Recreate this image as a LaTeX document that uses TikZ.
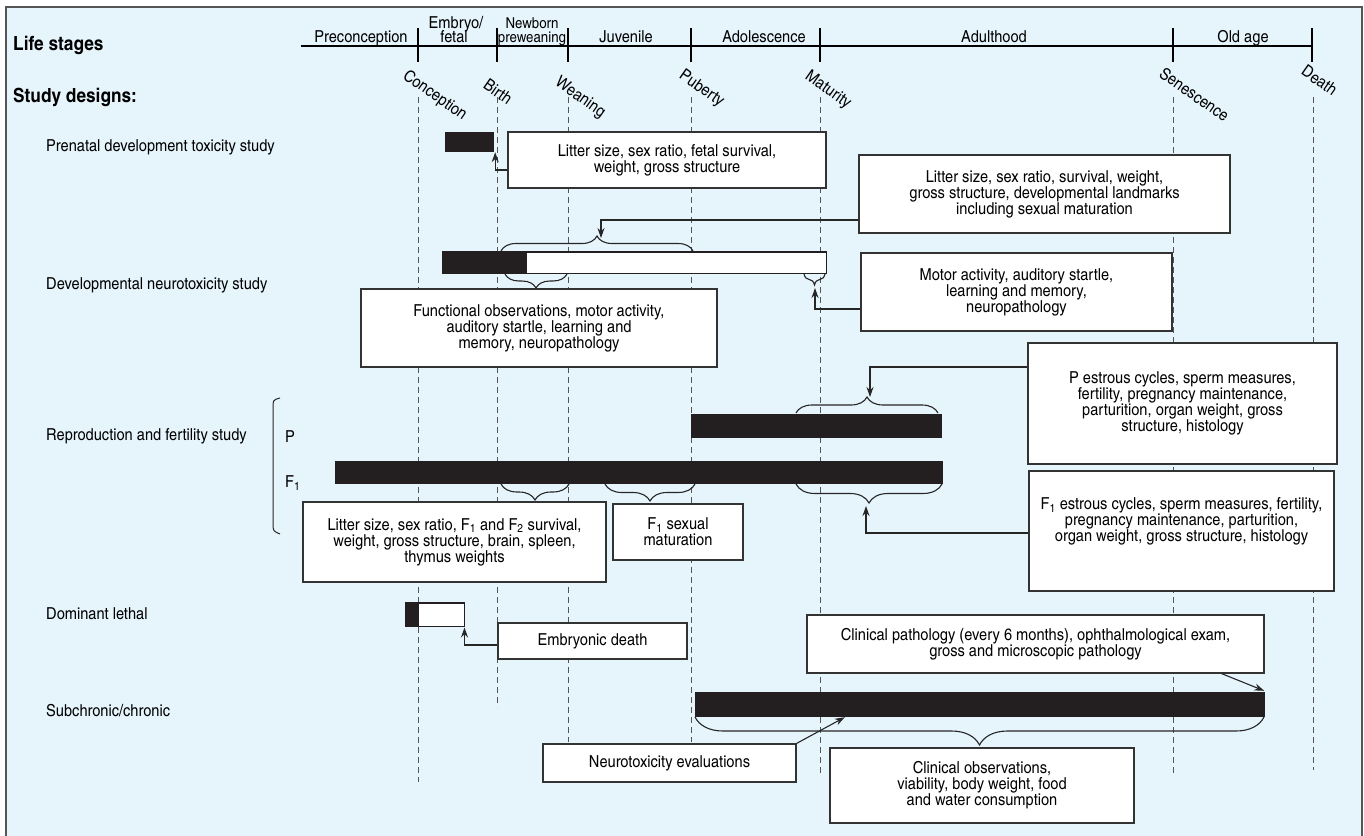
\documentclass[tikz,border=0pt]{standalone}
\usepackage{fontspec}
\setmainfont{texgyreheroscn}[Extension=.otf, UprightFont=*-regular, BoldFont=*-bold, ItalicFont=*-italic, BoldItalicFont=*-bolditalic, FakeStretch=1.08]
\usetikzlibrary{arrows.meta,decorations.pathreplacing,calc}
\definecolor{bgblue}{HTML}{E6F4FC}
\definecolor{framec}{HTML}{555555}
\definecolor{dashc}{HTML}{555555}
\definecolor{boxc}{HTML}{333333}
\definecolor{barc}{HTML}{231F20}
\newcommand{\fsbox}{\fontsize{16.5}{16}\selectfont}
\newcommand{\fssmall}{\fontsize{15}{15}\selectfont}
\newcommand{\fsrow}{\fontsize{16.5}{17}\selectfont}
\newcommand{\fshead}{\fontsize{19.5}{20}\selectfont\bfseries}
\begin{document}
\begin{tikzpicture}[x=1pt,y=-1pt,
  box/.style={draw=boxc, fill=white, line width=1.2pt, align=center, inner sep=0pt, font=\fsbox},
  bar/.style={fill=barc, draw=barc, line width=0.4pt, inner sep=0pt},
  wbar/.style={fill=white, draw=barc, line width=1pt, inner sep=0pt},
  stage/.style={font=\fsbox, inner sep=0pt, anchor=base},
  rowlab/.style={font=\fsrow, inner sep=0pt, anchor=west},
  head/.style={font=\fshead, inner sep=0pt, anchor=west},
  rot/.style={font=\fsbox, inner sep=0pt, anchor=north west, rotate=-35},
  tline/.style={draw=black, line width=1.2pt},
  dline/.style={draw=dashc, line width=1pt, dash pattern=on 6pt off 4pt},
  arr/.style={draw=black!85, line width=1.1pt, -{Stealth[length=10pt,width=7pt]}},
  brc/.style={draw=black!85, line width=1.1pt, decorate, decoration={brace, amplitude=#1}}
]
\useasboundingbox (0,0) rectangle (1364,835);
\fill[white] (0,0) rectangle (1364,835);
\draw[framec, fill=bgblue, line width=2pt] (6,7) rectangle (1362,850);

% headings
\node[head] (hLife) at (13,45) {Life stages};
\node[head] (hStudy) at (13,97) {Study designs:};

% timeline
\draw[tline] (301,46) -- (1312,46);
\foreach \x in {418,497,568,691,820,1173,1312} \draw[tline] (\x,28) -- (\x,62);
\node[stage] (sPre) at (361,42) {Preconception};
\node[stage] (sEmb1) at (456,28) {Embryo/};
\node[stage] (sEmb2) at (454,42) {fetal};
\node[stage, font=\fssmall] (sNew1) at (532,28) {Newborn};
\node[stage, font=\fssmall] (sNew2) at (532,42) {preweaning};
\node[stage] (sJuv) at (626,42) {Juvenile};
\node[stage] (sAdo) at (764,42) {Adolescence};
\node[stage] (sAdu) at (994,42) {Adulthood};
\node[stage] (sOld) at (1243,42) {Old age};

% dashed event lines
\foreach \x/\yb in {418/782,497/707,568/742,691/742,820/775,1173/773,1313/770}
  \draw[dline] (\x,97) -- (\x,\yb);

% rotated event labels
\node[rot] (eCon) at (409,68) {Conception};
\node[rot] (eBir) at (489,78) {Birth};
\node[rot] (eWea) at (561,75) {Weaning};
\node[rot] (ePub) at (685,68) {Puberty};
\node[rot] (eMat) at (811,69) {Maturity};
\node[rot] (eSen) at (1165,66) {Senescence};
\node[rot] (eDea) at (1307,64) {Death};

% row labels
\node[rowlab] (rPre) at (46,147) {Prenatal development toxicity study};
\node[rowlab] (rDnt) at (46,285) {Developmental neurotoxicity study};
\node[rowlab] (rRep) at (46,436) {Reproduction and fertility study};
\node[rowlab] (rDom) at (46,614) {Dominant lethal};
\node[rowlab] (rSub) at (46,711) {Subchronic/chronic};
\node[rowlab] (rP) at (285,437) {P};
\node[rowlab] (rF) at (285,483) {F\textsubscript{1}};
\draw[draw=black!85, line width=1pt] (280,398) .. controls (273,400) .. (273,408) -- (273,523) .. controls (273,531) .. (280,534);

% bars
\node[bar, minimum width=48, minimum height=19] (pren) at (469,141.5) {};
\node[wbar, minimum width=383, minimum height=21] (dnt) at (634.5,262.5) {};
\fill[barc] (dnt.north west) rectangle ($(dnt.south west)+(84,0)$);
\draw[barc, line width=1pt] (dnt.north west) rectangle (dnt.south east);
\node[bar, minimum width=250, minimum height=23] (pbar) at (816,425.5) {};
\node[bar, minimum width=607, minimum height=22] (fbar) at (638.5,472) {};
\node[wbar, minimum width=58, minimum height=23] (dl) at (435,614.5) {};
\fill[barc] (dl.north west) rectangle ($(dl.south west)+(13,0)$);
\draw[barc, line width=1pt] (dl.north west) rectangle (dl.south east);
\node[bar, minimum width=569, minimum height=24] (sc) at (979.5,704) {};

% boxes
\node[box, minimum width=318, minimum height=56] (A) at (667,160) {Litter size, sex ratio, fetal survival,\\weight, gross structure};
\node[box, minimum width=371, minimum height=78] (B) at (1044.5,194) {Litter size, sex ratio, survival, weight,\\gross structure, developmental landmarks\\including sexual maturation};
\node[box, minimum width=311, minimum height=78] (C) at (1016.5,292) {Motor activity, auditory startle,\\learning and memory,\\neuropathology};
\node[box, minimum width=356, minimum height=78] (D) at (539,328) {Functional observations, motor activity,\\auditory startle, learning and\\memory, neuropathology};
\node[box, minimum width=309, minimum height=121] (E) at (1182.5,403.5) {P estrous cycles, sperm measures,\\fertility, pregnancy maintenance,\\parturition, organ weight, gross\\structure, histology};
\node[box, minimum width=305, minimum height=120, text height=25pt] (F) at (1181.5,531) {F\textsubscript{1} estrous cycles, sperm measures, fertility,\\pregnancy maintenance, parturition,\\organ weight, gross structure, histology};
\node[box, minimum width=303, minimum height=80] (G) at (454.5,542) {Litter size, sex ratio, F\textsubscript{1} and F\textsubscript{2} survival,\\weight, gross structure, brain, spleen,\\thymus weights};
\node[box, minimum width=130, minimum height=56] (H) at (678,532) {F\textsubscript{1} sexual\\maturation};
\node[box, minimum width=189, minimum height=36] (I) at (592.5,641) {Embryonic death};
\node[box, minimum width=457, minimum height=58] (J) at (1035.5,644) {Clinical pathology (every 6 months), ophthalmological exam,\\gross and microscopic pathology};
\node[box, minimum width=304, minimum height=75] (K) at (982,785.5) {Clinical observations,\\viability, body weight, food\\and water consumption};
\node[box, minimum width=253, minimum height=38] (L) at (669.5,763) {Neurotoxicity evaluations};

% braces
\draw[brc=15] (501,251) -- (693,251);
\draw[brc=14] (567,274) -- (505,274);
\draw[brc=11] (825,274) -- (804,274);
\draw[brc=16] (796,413) -- (938,413);
\draw[brc=16] (569,484) -- (501,484);
\draw[brc=17] (695,484) -- (605,484);
\draw[brc=19] (942,484) -- (796,484);
\draw[brc=28] (1264,717) -- (695,717);

% brace tips
\coordinate (tDntTop) at (601,238);
\coordinate (tDntR) at (815,288);
\coordinate (tP) at (870,397);
\coordinate (tF) at (866,506);

% arrows
\draw[arr] ($(A.west)+(0,10)$) -| ($(pren.south east)+(2,1)$);
\draw[arr] ($(B.west)+(0,26)$) -| (tDntTop);
\draw[arr] ($(C.west)+(0,17)$) -| (tDntR);
\draw[arr] ($(E.west)+(0,-36.5)$) -| (tP);
\draw[arr] ($(F.west)+(0,2)$) -| (tF);
\draw[arr] ($(I.west)+(0,4)$) -| ($(dl.south east)+(0,1)$);
\draw[arr] ($(J.south east)+(-43,0)$) -- ($(sc.north east)+(0,-1)$);
\draw[arr] (L.north east) -- ($(sc.south west)+(150,1)$);
\end{tikzpicture}
\end{document}
